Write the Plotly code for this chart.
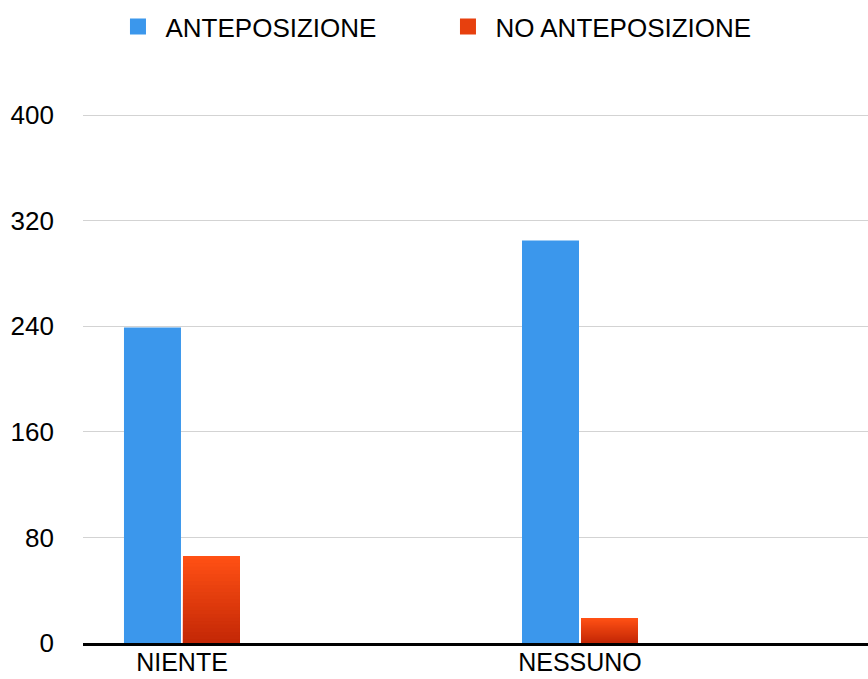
"""
Grafico a barre raggruppate: ANTEPOSIZIONE vs NO ANTEPOSIZIONE
"""
import plotly.graph_objects as go

categorie = ["NIENTE", "NESSUNO"]
anteposizione = [239, 305]
no_anteposizione = [66, 19]
tick_y = [0, 80, 160, 240, 320, 400]

FONT = "Liberation Sans, Arial, Helvetica, sans-serif"
BLU = "#3B97EC"
ROSSO_ALTO = (255, 80, 20)
ROSSO_BASSO = (196, 40, 6)
N_SFUMATURA = 24


def mix(a, b, t):
    return "rgb({},{},{})".format(*[round(a[i] + (b[i] - a[i]) * t) for i in range(3)])


fig = go.Figure()

fig.add_trace(go.Bar(
    x=categorie, y=anteposizione, offsetgroup="a",
    marker=dict(color=BLU, line=dict(width=0)), showlegend=False,
))

# sfumatura verticale: barre sovrapposte sempre più corte e più scure
for k in range(N_SFUMATURA):
    frac = 1 - k / N_SFUMATURA
    fig.add_trace(go.Bar(
        x=categorie, y=[v * frac for v in no_anteposizione], offsetgroup="b",
        marker=dict(color=mix(ROSSO_ALTO, ROSSO_BASSO, k / (N_SFUMATURA - 1)), line=dict(width=0)),
        showlegend=False, hoverinfo="skip" if k else None,
    ))

# voci di legenda
fig.add_trace(go.Scatter(
    x=[None], y=[None], mode="markers", name="ANTEPOSIZIONE",
    marker=dict(symbol="square", size=20, color=BLU),
))
fig.add_trace(go.Scatter(
    x=[None], y=[None], mode="markers", name="NO ANTEPOSIZIONE",
    marker=dict(symbol="square", size=20, color=mix(ROSSO_ALTO, ROSSO_BASSO, 0.4)),
))

fig.update_layout(
    width=868, height=679,
    margin=dict(l=83, r=0, t=114, b=36, autoexpand=False),
    paper_bgcolor="white", plot_bgcolor="white",
    font=dict(family=FONT, size=26, color="black"),
    barmode="group", bargap=0.7035, bargroupgap=0.034,
    legend=dict(
        orientation="h", x=0.035, xanchor="left", y=1.165, yanchor="middle",
        font=dict(size=26), itemwidth=45, entrywidth=270,
    ),
    xaxis=dict(
        range=[-0.2487, 1.7236], showgrid=False, showline=True,
        linecolor="black", linewidth=2.5, ticks="", tickfont=dict(size=25),
        ticklabelstandoff=-5,
    ),
    yaxis=dict(
        range=[0, 400.8], tickvals=tick_y, showgrid=True, gridcolor="#D3D3D3",
        gridwidth=1, zeroline=False, showline=False, ticks="",
        ticklabelstandoff=28, tickfont=dict(size=26),
    ),
)

fig.write_html(
    "out.html",
    config={"displayModeBar": False},
    post_script="document.body.style.margin='0';",
)
